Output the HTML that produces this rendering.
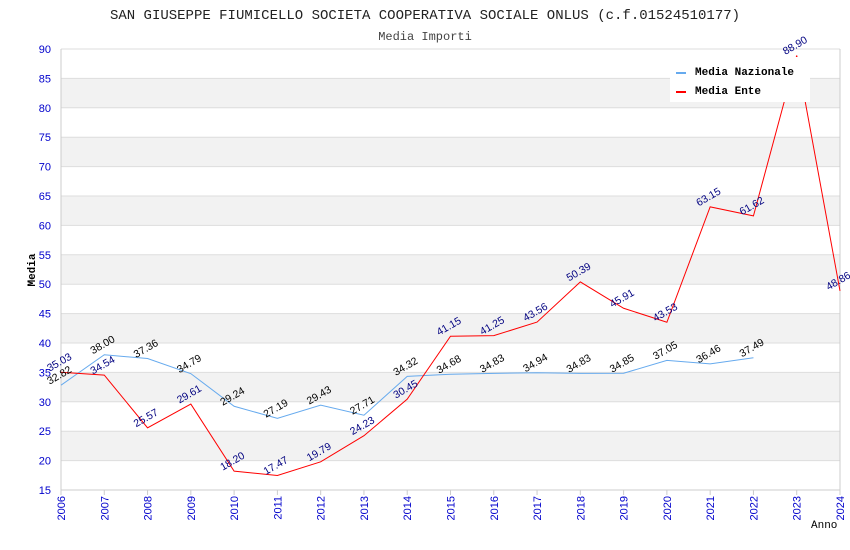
<!DOCTYPE html>
<html><head><meta charset="utf-8"><style>
body{margin:0;background:#fff;}
svg{display:block;font-family:"Liberation Sans",sans-serif;}
.mono{font-family:"Liberation Mono","DejaVu Sans Mono",monospace;}
</style></head><body>
<svg id="chart" width="850" height="550">
<text class="mono" x="425" y="19" text-anchor="middle" font-size="14" fill="#222">SAN GIUSEPPE FIUMICELLO SOCIETA COOPERATIVA SOCIALE ONLUS (c.f.01524510177)</text>
<text class="mono" x="425" y="40" text-anchor="middle" font-size="12" fill="#444">Media Importi</text>
<g id="bands"></g><g id="grid"></g><g id="axes"></g><g id="series"></g><g id="labels"></g>
<text class="mono" x="35" y="270" font-size="11" font-weight="bold" fill="#000" transform="rotate(-90 35 270)" text-anchor="middle">Media</text>
<text class="mono" x="811" y="528" font-size="11" fill="#000">Anno</text>
<g>
<rect x="670" y="57" width="140" height="45" fill="#fff"/>
<line x1="676" y1="73" x2="686" y2="73" stroke="#66aaee" stroke-width="2"/>
<text class="mono" x="695" y="75" font-size="11" font-weight="bold" fill="#000">Media Nazionale</text>
<line x1="676" y1="92" x2="686" y2="92" stroke="#ff0000" stroke-width="2"/>
<text class="mono" x="695" y="94" font-size="11" font-weight="bold" fill="#000">Media Ente</text>
</g>
</svg>
<script>
const years=[2006,2007,2008,2009,2010,2011,2012,2013,2014,2015,2016,2017,2018,2019,2020,2021,2022,2023,2024];
const nazionale=[32.82,38.00,37.36,34.79,29.24,27.19,29.43,27.71,34.32,34.68,34.83,34.94,34.83,34.85,37.05,36.46,37.49];
const ente=[35.03,34.54,25.57,29.61,18.20,17.47,19.79,24.23,30.45,41.15,41.25,43.56,50.39,45.91,43.53,63.15,61.62,88.90,48.86];
const yTicks=[15,20,25,30,35,40,45,50,55,60,65,70,75,80,85,90];
const NS="http://www.w3.org/2000/svg";
const x0=61,x1=840,y0=490,y1=49,ymin=15,ymax=90;
const xs=y=>x0+(y-years[0])*(x1-x0)/(years[years.length-1]-years[0]);
const ys=v=>y0-(v-ymin)*(y0-y1)/(ymax-ymin);
function mk(tag,attrs,parent){const e=document.createElementNS(NS,tag);for(const k in attrs)e.setAttribute(k,attrs[k]);document.getElementById(parent).appendChild(e);return e;}
for(let i=0;i<yTicks.length-1;i++){
 if(i%2===1){const b=mk('rect',{x:x0,y:ys(yTicks[i+1]),width:x1-x0,height:ys(yTicks[i])-ys(yTicks[i+1]),fill:'#f2f2f2'},'bands');
 
 }
}
yTicks.forEach(t=>{
 mk('line',{x1:x0,x2:x1,y1:ys(t),y2:ys(t),stroke:'#ddd','stroke-width':1},'grid');
 const tx=mk('text',{x:x0-10,y:ys(t)+4,'text-anchor':'end','font-size':11,fill:'#0000cc'},'axes');
 tx.textContent=t;
 
 
});
mk('line',{x1:x0,x2:x0,y1:y1,y2:y0,stroke:'#ccc'},'axes');
mk('line',{x1:x1,x2:x1,y1:y1,y2:y0,stroke:'#ccc'},'axes');
mk('line',{x1:x0,x2:x1,y1:y0,y2:y0,stroke:'#ccc'},'axes');
years.forEach(yr=>{
 const X=xs(yr);
 mk('line',{x1:X,x2:X,y1:y0,y2:y0+5,stroke:'#ccc'},'axes');
 const tx=mk('text',{x:X+4,y:y0+6,'text-anchor':'end','font-size':11,fill:'#0000cc',transform:`rotate(-90 ${X+4} ${y0+6})`},'axes');
 tx.textContent=yr;
 
 
});
function series(vals,color,lblColor,name){
 const pts=vals.map((v,i)=>xs(years[i])+','+ys(v)).join(' ');
 const p=mk('polyline',{points:pts,fill:'none',stroke:color,'stroke-width':1},'series');
 
 
 vals.forEach((v,i)=>{
  const X=xs(years[i]),Y=ys(v)-7;
  const t=mk('text',{x:X,y:Y,'text-anchor':'middle','font-size':10.5,fill:lblColor,transform:`rotate(-30 ${X} ${Y})`},'labels');
  t.textContent=v.toFixed(2);
  
  
 });
}
series(nazionale,'#66aaee','#000','nazionale');
series(ente,'#ff0000','#000080','ente');
</script>
</body></html>
